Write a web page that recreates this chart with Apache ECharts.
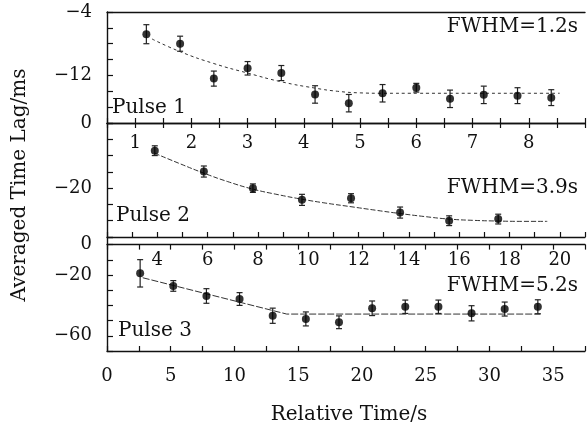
<!DOCTYPE html>
<html>
<head>
<meta charset="utf-8">
<script src="https://cdn.jsdelivr.net/npm/echarts@6/dist/echarts.min.js"></script>
<style>html,body{margin:0;padding:0;background:#fff}#c{width:588px;height:428px}</style>
</head>
<body>
<div id="c"></div>
<script>
// ---- data ----
const pulse1X   = [1.2, 1.8, 2.4, 3.0, 3.6, 4.2, 4.8, 5.4, 6.0, 6.6, 7.2, 7.8, 8.4];
const pulse1Y   = [-6.8, -8.0, -12.4, -11.1, -11.7, -14.4, -15.5, -14.25, -13.55, -14.95, -14.45, -14.55, -14.8];
const pulse1Err = [1.2, 0.95, 0.95, 0.85, 0.95, 1.1, 1.1, 1.1, 0.55, 1.1, 1.1, 1.0, 1.0];
const fit1X = [1.3, 1.8, 2.4, 3.0, 3.6, 4.2, 4.6, 5.0, 5.4, 6.0, 7.0, 8.0, 8.55];
const fit1Y = [-7.4, -9.0, -10.5, -11.7, -12.8, -13.6, -14.0, -14.2, -14.25, -14.25, -14.25, -14.25, -14.25];

const pulse2X   = [3.9, 5.85, 7.8, 9.75, 11.7, 13.65, 15.6, 17.55];
const pulse2Y   = [-8.5, -14.9, -20.0, -23.6, -23.1, -27.5, -30.0, -29.5];
const pulse2Err = [1.5, 1.7, 1.3, 1.7, 1.4, 1.7, 1.5, 1.5];
const fit2X = [3.9, 4.9, 5.85, 6.8, 7.8, 8.8, 9.75, 10.7, 11.7, 12.7, 13.65, 14.6, 15.6, 16.6, 17.55, 18.5, 19.5];
const fit2Y = [-9.3, -12.5, -15.4, -18.0, -20.3, -22.0, -23.4, -24.6, -25.7, -26.8, -27.8, -28.7, -29.5, -29.9, -30.1, -30.2, -30.2];

const pulse3X   = [2.6, 5.2, 7.8, 10.4, 13.0, 15.6, 18.2, 20.8, 23.4, 26.0, 28.6, 31.2, 33.8];
const pulse3Y   = [-18.9, -27.2, -33.8, -35.8, -46.8, -48.9, -51.1, -41.9, -40.9, -40.9, -45.2, -42.4, -40.9];
const pulse3Err = [9, 3.5, 4.8, 4.2, 5, 4.6, 4.2, 4.8, 4.4, 4.4, 5, 4.6, 4.6];
const fit3X = [2.8, 14.1, 34.0];
const fit3Y = [-21.8, -45.7, -45.7];

const xLabels1 = [1, 2, 3, 4, 5, 6, 7, 8];
const xLabels2 = [4, 6, 8, 10, 12, 14, 16, 18, 20];
const xLabels3 = [0, 5, 10, 15, 20, 25, 30, 35];
const yLabels1 = [-4, -12];
const yLabels2 = [0, -20];
const yLabels3 = [0, -20, -60];

const panelText = ['Pulse 1', 'Pulse 2', 'Pulse 3'];
const fwhmText = ['FWHM=1.2s', 'FWHM=3.9s', 'FWHM=5.2s'];
const yTitle = 'Averaged Time Lag/ms';
const xTitle = 'Relative Time/s';

// ---- chart ----
const FONT = 'DejaVu Serif';
const INK = '#111';
const near = (a, b) => Math.abs(a - b) < 1e-6;
const fmt = list => v => list.some(t => near(t, v)) ? String(Math.round(v)).replace('-', '\u2212') : '';
const zip = (xs, ys) => xs.map((x, i) => [x, ys[i]]);
const zip3 = (xs, ys, es) => xs.map((x, i) => [x, ys[i], es[i]]);

const axLine = {show: true, lineStyle: {color: INK, width: 1.4}};
function xAx(grid, pos, min, max, interval, labels, margin, showTicks) {
  return {
    type: 'value', gridIndex: grid, position: pos, min, max, interval,
    axisLine: axLine, splitLine: {show: false},
    axisTick: {show: showTicks, inside: true, length: 5, lineStyle: {color: INK, width: 1.2}},
    axisLabel: labels ? {show: true, formatter: fmt(labels), margin, color: INK,
      fontFamily: FONT, fontSize: 18, showMinLabel: true, showMaxLabel: true} : {show: false}
  };
}
function yAx(grid, min, max, interval, labels) {
  return {
    type: 'value', gridIndex: grid, min, max, interval,
    axisLine: axLine, splitLine: {show: false},
    axisTick: {show: true, inside: true, length: 6, lineStyle: {color: INK, width: 1.2}},
    axisLabel: {show: true, formatter: fmt(labels), margin: 15, color: INK,
      fontFamily: FONT, fontSize: 18, showMinLabel: true, showMaxLabel: true}
  };
}
function errSeries(xi, yi, data) {
  return {
    type: 'custom', xAxisIndex: xi, yAxisIndex: yi, data, z: 3,
    renderItem: (params, api) => {
      const x = api.value(0), y = api.value(1), e = api.value(2);
      const t = api.coord([x, y + e]), b = api.coord([x, y - e]);
      const st = {stroke: '#222', lineWidth: 1.2};
      return {type: 'group', children: [
        {type: 'line', shape: {x1: t[0], y1: t[1], x2: b[0], y2: b[1]}, style: st},
        {type: 'line', shape: {x1: t[0] - 3, y1: t[1], x2: t[0] + 3, y2: t[1]}, style: st},
        {type: 'line', shape: {x1: b[0] - 3, y1: b[1], x2: b[0] + 3, y2: b[1]}, style: st}
      ]};
    }
  };
}
function pts(xi, yi, data) {
  return {type: 'scatter', xAxisIndex: xi, yAxisIndex: yi, data, symbol: 'circle',
    symbolSize: 8, itemStyle: {color: '#000'}, z: 4};
}
function fit(xi, yi, data, dash, smooth) {
  return {type: 'line', xAxisIndex: xi, yAxisIndex: yi, data, smooth, symbol: 'none',
    lineStyle: {color: '#333', width: 1, type: dash}, z: 2};
}
function txt(x, y, text, align, size) {
  return {type: 'text', x, y, style: {text, fill: INK, font: size + 'px "' + FONT + '"',
    textAlign: align, textVerticalAlign: 'middle'}};
}

const chart = echarts.init(document.getElementById('c'), null, {renderer: 'canvas'});
chart.setOption({
  backgroundColor: '#fff',
  animation: false,
  grid: [
    {left: 107, width: 487, top: 12, height: 111},
    {left: 107, width: 487, top: 123, height: 114},
    {left: 107, width: 487, top: 237, height: 114}
  ],
  xAxis: [
    xAx(0, 'bottom', 0.5, 9, 0.5, xLabels1, 11, true),
    xAx(0, 'top', 0.5, 9, 0.5, null, 0, false),
    xAx(1, 'top', 0.5, 9, 0.5, null, 0, true),
    xAx(1, 'bottom', 2, 21, 1, xLabels2, 14, true),
    xAx(2, 'top', 0, 37.5, 2.5, null, 0, true),
    xAx(2, 'bottom', 0, 37.5, 2.5, xLabels3, 16, true)
  ],
  yAxis: [
    yAx(0, -18, -4, 2, yLabels1),
    yAx(1, -35, 0, 5, yLabels2),
    yAx(2, -70, 5, 10, yLabels3)
  ],
  series: [
    fit(0, 0, zip(fit1X, fit1Y), [3, 3], true),
    errSeries(0, 0, zip3(pulse1X, pulse1Y, pulse1Err)),
    pts(0, 0, zip(pulse1X, pulse1Y)),
    fit(3, 1, zip(fit2X, fit2Y), [5, 2], true),
    errSeries(3, 1, zip3(pulse2X, pulse2Y, pulse2Err)),
    pts(3, 1, zip(pulse2X, pulse2Y)),
    fit(5, 2, zip(fit3X, fit3Y), [7, 2], false),
    errSeries(5, 2, zip3(pulse3X, pulse3Y, pulse3Err)),
    pts(5, 2, zip(pulse3X, pulse3Y))
  ],
  graphic: [
    txt(112, 108, panelText[0], 'left', 20),
    txt(116, 216, panelText[1], 'left', 20),
    txt(118, 331, panelText[2], 'left', 20),
    txt(578, 27, fwhmText[0], 'right', 20),
    txt(578, 188, fwhmText[1], 'right', 20),
    txt(578, 286, fwhmText[2], 'right', 20),
    txt(349, 415, xTitle, 'center', 20),
    {type: 'text', x: 20, y: 185, rotation: Math.PI / 2,
      style: {text: yTitle, fill: INK, font: '20px "' + FONT + '"', textAlign: 'center', textVerticalAlign: 'middle'}}
  ]
});
</script>
</body>
</html>
